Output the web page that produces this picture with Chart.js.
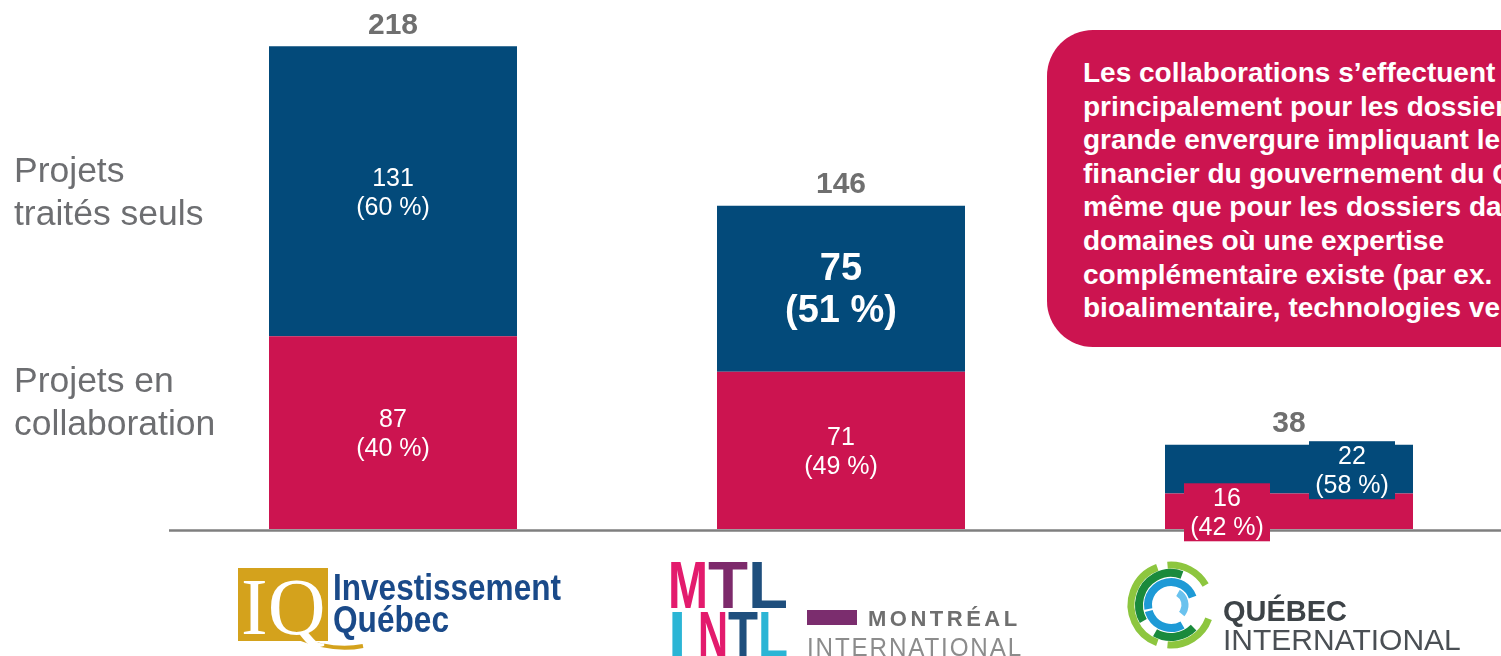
<!DOCTYPE html>
<html lang="fr">
<head>
<meta charset="utf-8">
<script src="https://cdn.jsdelivr.net/npm/chart.js@4.4.1/dist/chart.umd.min.js"></script>
<style>
  html, body { margin:0; padding:0; background:#fff; }
  body { width:1501px; height:656px; overflow:hidden; position:relative; font-family:"Liberation Sans", Arial, sans-serif; }
  #wrap { position:absolute; left:0; top:0; width:1513px; height:656px; }
  .side { position:absolute; left:14px; color:#6d6e71; font-size:35.5px; line-height:43px; white-space:nowrap; }
  #callout { position:absolute; left:1047px; top:30px; width:620px; height:317px; background:#cc1450;
             border-radius:46px; box-sizing:border-box; padding:26px 0 0 36px; color:#fff; font-weight:bold;
             font-size:28px; line-height:33.6px; white-space:nowrap; z-index:2; }
</style>
</head>
<body>
<div id="wrap"><canvas id="c" width="1513" height="656"></canvas></div>
<div class="side" style="top:149px">Projets<br>traités seuls</div>
<div class="side" style="top:359px">Projets en<br>collaboration</div>
<div id="callout">Les collaborations s’effectuent<br>principalement pour les dossiers de<br>grande envergure impliquant le levier<br>financier du gouvernement du Québec, de<br>même que pour les dossiers dans des<br>domaines où une expertise<br>complémentaire existe (par ex.<br>bioalimentaire, technologies vertes).</div>
<script>
// ---- Data ----
const categories = ["Investissement Québec", "Montréal International", "Québec International"];
const collabValues = [87, 71, 16];   // Projets en collaboration
const seulsValues  = [131, 75, 22];  // Projets traités seuls
const collabPct    = [40, 49, 42];
const seulsPct     = [60, 51, 58];
const seriesNames  = ["Projets en collaboration", "Projets traités seuls"];

// ---- Styles ----
const RED = "#cc1450", BLUE = "#034a7a", GRAY = "#6f6f6f";

const chartAreaLeft = 169;

function valueLines(dsIndex, i) {
  const v = dsIndex === 0 ? collabValues[i] : seulsValues[i];
  const p = dsIndex === 0 ? collabPct[i] : seulsPct[i];
  return [String(v), "(" + p + " %)"];
}

const labelPlugin = {
  id: "labels",
  afterDatasetsDraw(chart) {
    const ctx = chart.ctx;
    // baseline axis
    ctx.save();
    ctx.strokeStyle = "#7f7f7f";
    ctx.lineWidth = 2.5;
    ctx.beginPath();
    ctx.moveTo(chartAreaLeft, chart.chartArea.bottom + 1.5);
    ctx.lineTo(chart.width, chart.chartArea.bottom + 1.5);
    ctx.stroke();
    ctx.restore();

    const nCat = categories.length;
    for (let d = 0; d < 2; d++) {
      const meta = chart.getDatasetMeta(d);
      meta.data.forEach((bar, i) => {
        const lines = valueLines(d, i);
        let cx = bar.x;
        const cy = (bar.y + bar.base) / 2;
        const emph = (d === 1 && i === 1);
        const font = emph ? "bold 38px 'Liberation Sans', Arial" : "25px 'Liberation Sans', Arial";
        const lh = emph ? 42 : 29;
        ctx.save();
        ctx.font = font;
        ctx.textAlign = "center";
        ctx.textBaseline = "middle";
        if (i === nCat - 1) {
          // small stack: labels shifted sideways on boxes
          cx += d === 0 ? -62 : 63;
          const w = 86, h = 58;
          ctx.fillStyle = d === 0 ? RED : BLUE;
          ctx.fillRect(cx - w / 2, cy - h / 2 + 1, w, h);
        }
        ctx.fillStyle = "#fff";
        ctx.fillText(lines[0], cx, cy - lh / 2 + 2);
        ctx.fillText(lines[1], cx, cy + lh / 2 + 2);
        ctx.restore();
      });
    }
    // totals
    const top = chart.getDatasetMeta(1);
    top.data.forEach((bar, i) => {
      ctx.save();
      ctx.font = "bold 30px 'Liberation Sans', Arial";
      ctx.fillStyle = GRAY;
      ctx.textAlign = "center";
      ctx.textBaseline = "middle";
      ctx.fillText(String(collabValues[i] + seulsValues[i]), bar.x, bar.y - 21);
      ctx.restore();
    });
  }
};

const logoPlugin = {
  id: "logos",
  afterDraw(chart) {
    const ctx = chart.ctx;
    const xs = chart.scales.x;
    // --- Investissement Québec ---
    let cx = xs.getPixelForValue(0);
    ctx.save();
    ctx.fillStyle = "#d4a21c";
    ctx.fillRect(cx - 155, 568, 90, 73);
    ctx.strokeStyle = "#d4a21c";
    ctx.lineWidth = 4;
    ctx.beginPath();
    ctx.moveTo(cx - 95, 638);
    ctx.quadraticCurveTo(cx - 60, 652, cx - 30, 646);
    ctx.stroke();
    ctx.fillStyle = "#fff";
    ctx.font = "80px 'Liberation Serif', 'DejaVu Serif', serif";
    ctx.textBaseline = "alphabetic";
    ctx.textAlign = "left";
    ctx.fillText("IQ", cx - 152, 634, 86);
    ctx.fillStyle = "#1a4a89";
    ctx.font = "bold 37px 'Liberation Sans Narrow', 'Liberation Sans', Arial";
    ctx.fillText("Investissement", cx - 60, 600, 228);
    ctx.fillText("Québec", cx - 60, 632, 116);
    ctx.restore();

    // --- Montréal International ---
    cx = xs.getPixelForValue(1);
    ctx.save();
    ctx.textBaseline = "alphabetic";
    ctx.textAlign = "left";
    ctx.font = "bold 66px 'Liberation Sans Narrow', 'Liberation Sans', Arial";
    const row1 = [["M", "#e31b6d"], ["T", "#7d2a6b"], ["L", "#1f4f7d"]];
    const row2 = [["I", "#2bb5d5"], ["N", "#e31b6d"], ["T", "#1f4f7d"], ["L", "#2bb5d5"]];
    let x = cx - 173;
    row1.forEach(([ch, col]) => { ctx.fillStyle = col; ctx.fillText(ch, x, 608, 40); x += 40; });
    x = cx - 173;
    row2.forEach(([ch, col]) => { ctx.fillStyle = col; ctx.fillText(ch, x, 658, 30); x += 30; });
    ctx.fillStyle = "#7b2d6e";
    ctx.fillRect(cx - 34, 610, 50, 15);
    ctx.fillStyle = "#6f6f6f";
    ctx.font = "bold 22px 'Liberation Sans', Arial";
    ctx.letterSpacing = "3.5px";
    ctx.fillText("MONTRÉAL", cx + 27, 626);
    ctx.fillStyle = "#8c8c8c";
    ctx.font = "26px 'Liberation Sans', Arial";
    ctx.letterSpacing = "2px";
    ctx.fillText("INTERNATIONAL", cx - 34, 656, 216);
    ctx.restore();

    // --- Québec International ---
    cx = xs.getPixelForValue(2);
    ctx.save();
    const ox = cx - 118, oy = 605;
    const arc = (r, w, a0, a1, col) => {
      ctx.strokeStyle = col; ctx.lineWidth = w; ctx.lineCap = "butt";
      ctx.beginPath(); ctx.arc(ox, oy, r, a0 * Math.PI / 180, a1 * Math.PI / 180); ctx.stroke();
    };
    arc(40, 7, 110, 250, "#8dc63f");
    arc(40, 7, 265, 330, "#8dc63f");
    arc(40, 7, 20, 95, "#8dc63f");
    arc(32, 8, 150, 290, "#1a8a3c");
    arc(32, 8, 45, 120, "#1a8a3c");
    arc(23, 8, 170, 340, "#1e9ad6");
    arc(23, 8, 60, 165, "#1e9ad6");
    arc(14, 7, 300, 400, "#6ac2ee");
    ctx.textBaseline = "alphabetic";
    ctx.textAlign = "left";
    ctx.fillStyle = "#3d4347";
    ctx.font = "bold 29px 'Liberation Sans', Arial";
    ctx.fillText("QUÉBEC", cx - 66, 621, 124);
    ctx.fillStyle = "#4a4f54";
    ctx.font = "30px 'Liberation Sans', Arial";
    ctx.fillText("INTERNATIONAL", cx - 66, 650, 244);
    ctx.restore();
  }
};

new Chart(document.getElementById("c"), {
  type: "bar",
  data: {
    labels: categories,
    datasets: [
      { label: seriesNames[0], data: collabValues, backgroundColor: RED, borderWidth: 0 },
      { label: seriesNames[1], data: seulsValues, backgroundColor: BLUE, borderWidth: 0 }
    ]
  },
  options: {
    responsive: false,
    animation: false,
    events: [],
    layout: { padding: { left: chartAreaLeft, right: 0, top: 2, bottom: 127 } },
    datasets: { bar: { barPercentage: 248 / 448, categoryPercentage: 1 } },
    scales: {
      x: { stacked: true, display: false },
      y: { stacked: true, display: false, min: 0, max: 238 }
    },
    plugins: { legend: { display: false }, tooltip: { enabled: false } }
  },
  plugins: [labelPlugin, logoPlugin]
});
</script>
</body>
</html>
